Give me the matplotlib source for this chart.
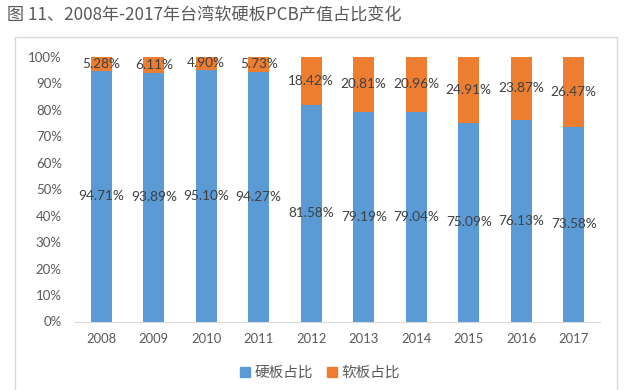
import matplotlib
matplotlib.use('Agg')
from matplotlib import pyplot as plt
from matplotlib.patches import Rectangle, Patch
import numpy as np

years = ['2008', '2009', '2010', '2011', '2012', '2013', '2014', '2015', '2016', '2017']
hard = [94.71, 93.89, 95.10, 94.27, 81.58, 79.19, 79.04, 75.09, 76.13, 73.58]
soft = [5.28, 6.11, 4.90, 5.73, 18.42, 20.81, 20.96, 24.91, 23.87, 26.47]
yticks = [0, 10, 20, 30, 40, 50, 60, 70, 80, 90, 100]
names = ['硬板占比', '软板占比']
title = '图 11、2008年-2017年台湾软硬板PCB产值占比变化'

blue = '#5B9BD5'
orange = '#ED7D31'
txt = '#404040'
cjk = ['Noto Sans CJK SC', 'DejaVu Sans']
num = ['Lato', 'Noto Sans CJK SC', 'DejaVu Sans']

plt.rcParams['font.family'] = num

W, H = 632, 390
fig = plt.figure(figsize=(W / 100, H / 100), dpi=100)
fig.patch.set_facecolor('white')

# outer chart frame (bottom runs off the picture)
fig.patches.append(Rectangle((15 / W, -0.1), (617 - 15) / W, (H - 37) / H + 0.1,
                             transform=fig.transFigure, fill=False,
                             edgecolor='#D9D9D9', linewidth=1.0))

fig.text(7 / W, 1 - 16 / H, title, ha='left', va='center', fontsize=12.3,
         color='#595959', family=cjk)

ax = fig.add_axes([75 / W, 1 - 321.5 / H, 525 / W, 264.8 / H])
x = np.arange(len(years))
hard_a = np.array(hard)
soft_a = np.array(soft)
ax.bar(x, hard_a, width=0.40, color=blue)
ax.bar(x, soft_a, width=0.40, bottom=hard_a, color=orange)

for i in range(len(years)):
    ax.text(x[i], hard_a[i] / 2, f'{hard[i]:.2f}%', ha='center', va='center',
            fontsize=9.8, color=txt)
    ax.text(x[i], hard_a[i] + soft_a[i] / 2, f'{soft[i]:.2f}%', ha='center',
            va='center', fontsize=9.8, color=txt)

ax.set_xlim(-0.5, len(years) - 0.5)
ax.set_ylim(0, 100)
ax.set_xticks(x)
ax.set_xticklabels(years)
ax.set_yticks(yticks)
ax.set_yticklabels([f'{v}%' for v in yticks])
ax.tick_params(axis='x', length=0, pad=8, labelsize=9.4, labelcolor='#595959')
ax.tick_params(axis='y', length=0, pad=9.5, labelsize=9.5, labelcolor='#595959')
for s in ['top', 'right', 'left']:
    ax.spines[s].set_visible(False)
ax.spines['bottom'].set_color('#D9D9D9')

handles = [Patch(color=blue, label=names[0]), Patch(color=orange, label=names[1])]
fig.legend(handles=handles, loc='center', bbox_to_anchor=(320 / W, 1 - 373 / H),
           ncol=2, frameon=False, handlelength=0.65, handleheight=0.65,
           handletextpad=0.3, columnspacing=1.0,
           prop={'family': cjk, 'size': 10.5}, labelcolor='#595959')

fig.savefig('out.png', dpi=100)
